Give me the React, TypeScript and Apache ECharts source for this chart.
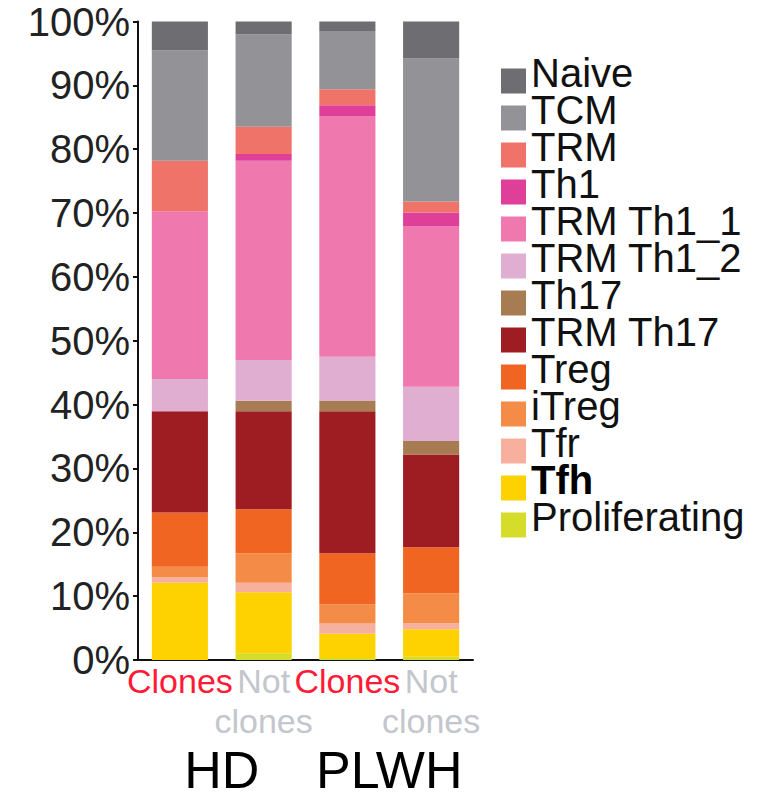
import React, { useEffect, useRef } from "react";
import * as echarts from "echarts";

// Cell-type composition (% of cells) per group
const groups = ["HD", "PLWH"];
const categories = ["Clones", "Not\nclones", "Clones", "Not\nclones"];
const categoryColors = ["#FF1A35", "#C3C6CD", "#FF1A35", "#C3C6CD"];

// stacked bottom → top
const cellTypes = [
  "Proliferating",
  "Tfh",
  "Tfr",
  "iTreg",
  "Treg",
  "TRM Th17",
  "Th17",
  "TRM Th1_2",
  "TRM Th1_1",
  "Th1",
  "TRM",
  "TCM",
  "Naive",
];

const cellColors = [
  "#D5DD2A",
  "#FDD200",
  "#F8B09E",
  "#F48B46",
  "#F06522",
  "#9D1D22",
  "#A87C52",
  "#E0AED1",
  "#EF79AE",
  "#DF3F98",
  "#F0736A",
  "#929297",
  "#6D6D72",
];

const proliferating = [0, 1.05, 0.3, 0.5];
const tfh = [12.1, 9.55, 3.8, 4.3];
const tfr = [0.85, 1.5, 1.6, 0.95];
const itreg = [1.65, 4.6, 3.0, 4.7];
const treg = [8.5, 6.9, 8.0, 7.2];
const trmTh17 = [15.85, 15.35, 22.25, 14.55];
const th17 = [0, 1.65, 1.7, 2.1];
const trmTh1_2 = [5.05, 6.4, 6.85, 8.5];
const trmTh1_1 = [26.3, 31.2, 37.7, 25.1];
const th1 = [0, 1.05, 1.7, 2.2];
const trm = [7.9, 4.25, 2.5, 1.7];
const tcm = [17.3, 14.5, 9.1, 22.4];
const naive = [4.5, 2.0, 1.5, 5.8];

const seriesValues = [
  proliferating,
  tfh,
  tfr,
  itreg,
  treg,
  trmTh17,
  th17,
  trmTh1_2,
  trmTh1_1,
  th1,
  trm,
  tcm,
  naive,
];

const yTicks = [0, 10, 20, 30, 40, 50, 60, 70, 80, 90, 100];

const FONT = "'Liberation Sans', Arial, sans-serif";

export default function App() {
  const ref = useRef<HTMLDivElement>(null);

  useEffect(() => {
    if (!ref.current) return;
    const chart = echarts.init(ref.current, null, { renderer: "svg" });

    const legendOrder = [...cellTypes].reverse();

    chart.setOption({
      animation: false,
      backgroundColor: "#ffffff",
      textStyle: { fontFamily: FONT },
      grid: { left: 138, right: 306, top: 21.5, bottom: 141, containLabel: false },
      legend: {
        orient: "vertical",
        left: 496,
        top: 48,
        itemWidth: 25,
        itemHeight: 25,
        itemGap: -19,
        icon: "rect",
        selectedMode: false,
        formatter: (name: string) =>
          name === "Tfh" ? `{b|${name}}` : `{a|${name}}`,
        textStyle: {
          fontFamily: FONT,
          fontSize: 40,
          color: "#111",
          rich: {
            a: {
              fontFamily: FONT,
              fontSize: 40,
              color: "#111",
              lineHeight: 21,
              padding: [0, 0, 16, 0],
            },
            b: {
              fontFamily: FONT,
              fontSize: 40,
              fontWeight: "bold",
              color: "#000",
              lineHeight: 21,
              padding: [0, 0, 16, 0],
            },
          },
        },
        data: legendOrder,
      },
      xAxis: [
        {
          type: "category",
          data: categories.map((c, i) => ({
            value: c,
            textStyle: { color: categoryColors[i] },
          })),
          axisLine: { lineStyle: { color: "#111", width: 2 } },
          axisTick: { show: false },
          axisLabel: {
            fontFamily: FONT,
            fontSize: 34,
            lineHeight: 40,
            margin: 1,
            interval: 0,
          },
        },
        {
          type: "category",
          position: "bottom",
          data: groups,
          offset: 84,
          axisLine: { show: false },
          axisTick: { show: false },
          axisLabel: {
            fontFamily: FONT,
            fontSize: 52,
            color: "#000",
            margin: 0,
            interval: 0,
            hideOverlap: false,
          },
        },
      ],
      yAxis: {
        type: "value",
        min: yTicks[0],
        max: yTicks[yTicks.length - 1],
        interval: 10,
        splitLine: { show: false },
        axisLine: { show: true, lineStyle: { color: "#111", width: 2 } },
        axisTick: { show: true, length: 5, lineStyle: { color: "#111", width: 2 } },
        axisLabel: {
          fontFamily: FONT,
          fontSize: 40,
          color: "#222",
          margin: 8,
          formatter: "{value}%",
        },
      },
      series: cellTypes.map((name, i) => ({
        name,
        type: "bar",
        stack: "total",
        xAxisIndex: 0,
        barCategoryGap: "33%",
        itemStyle: { color: cellColors[i] },
        data: seriesValues[i],
      })),
    });

    return () => chart.dispose();
  }, []);

  return <div ref={ref} style={{ width: 779, height: 801, position: "absolute", left: 0, top: 0 }} />;
}
